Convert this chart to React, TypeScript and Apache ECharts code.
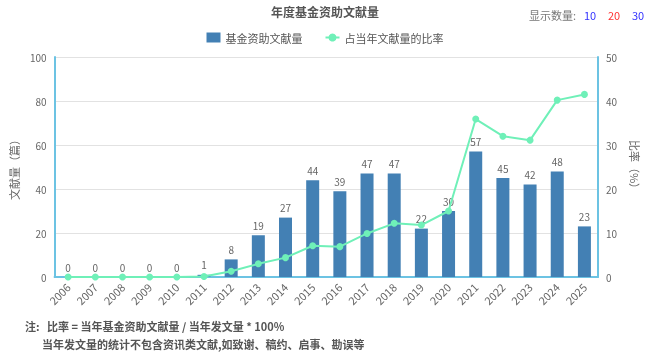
import React, { useEffect, useRef } from "react";
import * as echarts from "echarts";

const years = ["2006","2007","2008","2009","2010","2011","2012","2013","2014","2015","2016","2017","2018","2019","2020","2021","2022","2023","2024","2025"];
const counts = [0,0,0,0,0,1,8,19,27,44,39,47,47,22,30,57,45,42,48,23];
const ratios = [0,0,0,0,0,0.1,1.3,3.0,4.4,7.1,6.9,9.9,12.2,11.8,15.0,35.9,32.0,31.1,40.2,41.5];
const leftTicks = [0, 100, 20];
const rightTicks = [0, 50, 10];

const FONT = "'Noto Sans CJK SC', 'Noto Sans', sans-serif";
const AXIS_BLUE = "#6cc3e3";

export default function App() {
  const ref = useRef<HTMLDivElement>(null);
  useEffect(() => {
    if (!ref.current) return;
    const chart = echarts.init(ref.current, null, { renderer: "svg" });
    chart.setOption({
      animation: false,
      textStyle: { fontFamily: FONT },
      title: {
        text: "年度基金资助文献量",
        left: "center",
        top: 0,
        textStyle: { fontSize: 12, fontWeight: "bold", color: "#555", fontFamily: FONT },
      },
      legend: {
        top: 27,
        left: "center",
        itemWidth: 14,
        itemHeight: 10,
        itemGap: 22,
        textStyle: { fontSize: 11, color: "#555", fontFamily: FONT },
        data: [
          { name: "基金资助文献量", icon: "rect" },
          { name: "占当年文献量的比率" },
        ],
      },
      grid: { left: 53, right: 52, top: 57, bottom: 80 },
      xAxis: {
        type: "category",
        data: years,
        axisLine: { lineStyle: { color: AXIS_BLUE, width: 2 } },
        axisTick: { alignWithLabel: false, lineStyle: { color: AXIS_BLUE } },
        axisLabel: { rotate: 45, fontSize: 11, color: "#666", margin: 8, interval: 0 },
      },
      yAxis: [
        {
          type: "value",
          min: leftTicks[0],
          max: leftTicks[1],
          interval: leftTicks[2],
          name: "文献量（篇）",
          nameLocation: "middle",
          nameGap: 33,
          nameTextStyle: { fontSize: 11, color: "#666" },
          axisLine: { show: true, lineStyle: { color: AXIS_BLUE, width: 2 } },
          axisTick: { show: false },
          axisLabel: { fontSize: 10, color: "#666" },
          splitLine: { lineStyle: { color: "#e2e2e2" } },
        },
        {
          type: "value",
          min: rightTicks[0],
          max: rightTicks[1],
          interval: rightTicks[2],
          name: "比率（%）",
          nameLocation: "middle",
          nameGap: 32,
          nameRotate: -90,
          nameTextStyle: { fontSize: 11, color: "#666" },
          axisLine: { show: true, lineStyle: { color: AXIS_BLUE, width: 2 } },
          axisTick: { show: false },
          axisLabel: { fontSize: 10, color: "#666" },
          splitLine: { show: false },
        },
      ],
      series: [
        {
          name: "基金资助文献量",
          type: "bar",
          data: counts,
          barWidth: 13,
          itemStyle: { color: "#4380b4" },
          label: { show: true, position: "top", fontSize: 10, color: "#666", distance: 5 },
        },
        {
          name: "占当年文献量的比率",
          type: "line",
          yAxisIndex: 1,
          data: ratios,
          symbol: "circle",
          symbolSize: 7,
          lineStyle: { color: "#6ff0b8", width: 2 },
          itemStyle: { color: "#6ff0b8" },
        },
      ],
      graphic: [
        { type: "text", left: 529, top: 9, style: { text: "显示数量:", fill: "#777", font: "11px " + FONT } },
        { type: "text", left: 584, top: 9, style: { text: "10", fill: "#3333ff", font: "11px " + FONT } },
        { type: "text", left: 608, top: 9, style: { text: "20", fill: "#ff3333", font: "11px " + FONT } },
        { type: "text", left: 632, top: 9, style: { text: "30", fill: "#3333ff", font: "11px " + FONT } },
        { type: "text", left: 25, top: 320, style: { text: "注:   比率 = 当年基金资助文献量 / 当年发文量 * 100%", fill: "#555", font: "bold 11px " + FONT } },
        { type: "text", left: 42, top: 338, style: { text: "当年发文量的统计不包含资讯类文献,如致谢、稿约、启事、勘误等", fill: "#555", font: "bold 11px " + FONT } },
      ],
    });
    return () => chart.dispose();
  }, []);
  return <div ref={ref} style={{ position: "fixed", left: 0, top: 0, width: 650, height: 357 }} />;
}
